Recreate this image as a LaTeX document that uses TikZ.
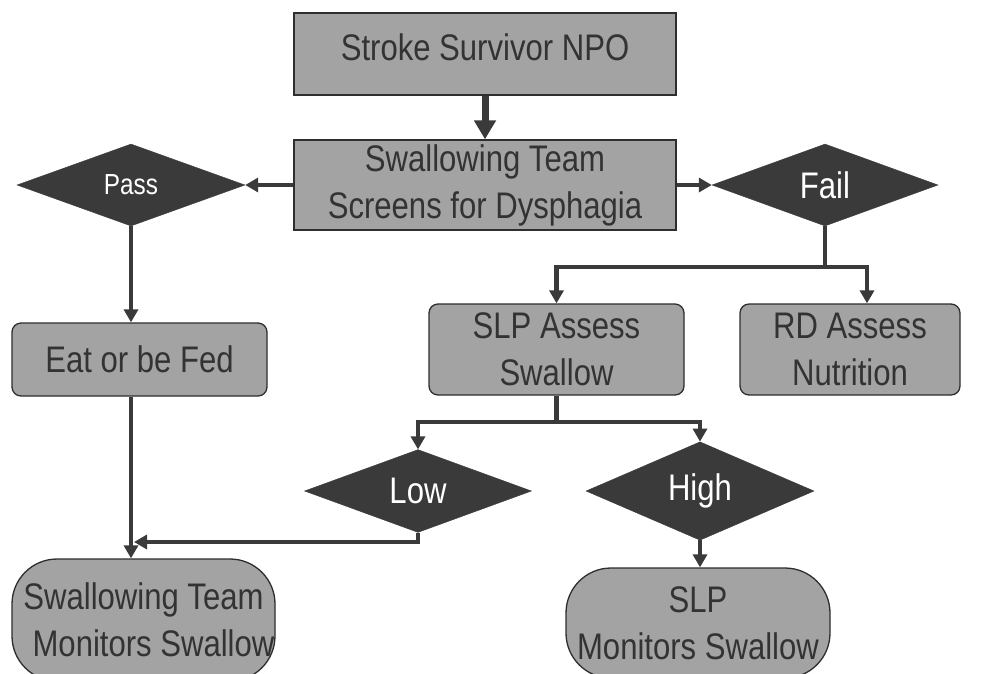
\documentclass[tikz,border=0pt]{standalone}
\usepackage{fontspec}
\setmainfont{Liberation Sans}[FakeStretch=0.84]
\usetikzlibrary{shapes.geometric,arrows.meta}
\definecolor{boxgray}{HTML}{A3A3A3}
\definecolor{dark}{HTML}{3A3A3A}
\definecolor{txtgray}{HTML}{333333}
\definecolor{edgec}{HTML}{2E2E2E}
\begin{document}
\begin{tikzpicture}[x=1pt,y=-1pt,font=\fontsize{37}{47}\selectfont,
  sqbox/.style={draw=edgec,line width=1.3pt,fill=boxgray,text=txtgray,inner sep=0pt,align=center},
  rbox/.style={sqbox,rounded corners=9pt},
  pill/.style={sqbox,rounded corners=45pt},
  dec/.style={diamond,fill=dark,draw=dark,text=white,inner sep=0pt,minimum width=228pt,minimum height=82pt},
  lineseg/.style={draw=dark,line width=4.5pt},
  conn/.style={lineseg,-{Triangle[width=14pt,length=13pt]}},
  bigconn/.style={draw=dark,line width=7pt,-{Triangle[width=21pt,length=19pt]}}]
\fill[white] (0,0) rectangle (981,673);
\useasboundingbox (0,0) rectangle (981,673);

\node[sqbox,minimum width=382pt,minimum height=82pt] (top) at (485,54)
  {\raisebox{7pt}[\height][\depth]{Stroke Survivor NPO}};
\node[sqbox,minimum width=382pt,minimum height=90pt] (screen) at (485,185)
  {Swallowing Team\\Screens for Dysphagia};
\node[dec,font=\fontsize{29}{35}\selectfont] (pass) at (131,185) {Pass};
\node[dec,minimum width=226pt] (fail) at (825,185) {Fail};
\node[rbox,minimum width=255pt,minimum height=73pt] (eat) at (139.5,359.5) {Eat or be Fed};
\node[rbox,minimum width=255pt,minimum height=91pt] (slp) at (556.5,349.5) {SLP Assess\\Swallow};
\node[rbox,minimum width=220pt,minimum height=91pt] (rd) at (850,349.5) {RD Assess\\Nutrition};
\node[dec,minimum width=227pt] (low) at (418,491) {Low};
\node[dec] (high) at (700,491) {High};
\node[pill,minimum width=263pt,minimum height=122pt] (stm) at (143.5,620)
  {Swallowing Team\\\hspace*{20pt}Monitors Swallow};
\node[pill,minimum width=264pt,minimum height=110pt] (slpm) at (698,623)
  {SLP\\Monitors Swallow};

\coordinate (fj) at (829,267);
\coordinate (sj) at (556.5,422);
\coordinate (lj) at (134,542);

\draw[bigconn] (top) -- (screen);
\draw[conn] (screen.west) -- (pass.east);
\draw[conn] (screen.east) -- (fail.west);
\draw[lineseg] (fail.south) -- (fail.south |- fj);
\draw[conn] (fail.south |- fj) -| (slp.north);
\draw[conn] (fail.south |- fj) -| ([xshift=17pt]rd.north);
\draw[conn] (pass.south) -- (pass.south |- eat.north);
\draw[conn] (eat.south -| pass.south) -- (stm.north -| pass.south);
\draw[lineseg] (slp.south) -- (sj);
\draw[conn] (sj) -| (low.north);
\draw[conn] (sj) -| (high.north);
\draw[conn] (low.south) |- (lj);
\draw[conn] (high.south) -- (high.south |- slpm.north);
\end{tikzpicture}
\end{document}
